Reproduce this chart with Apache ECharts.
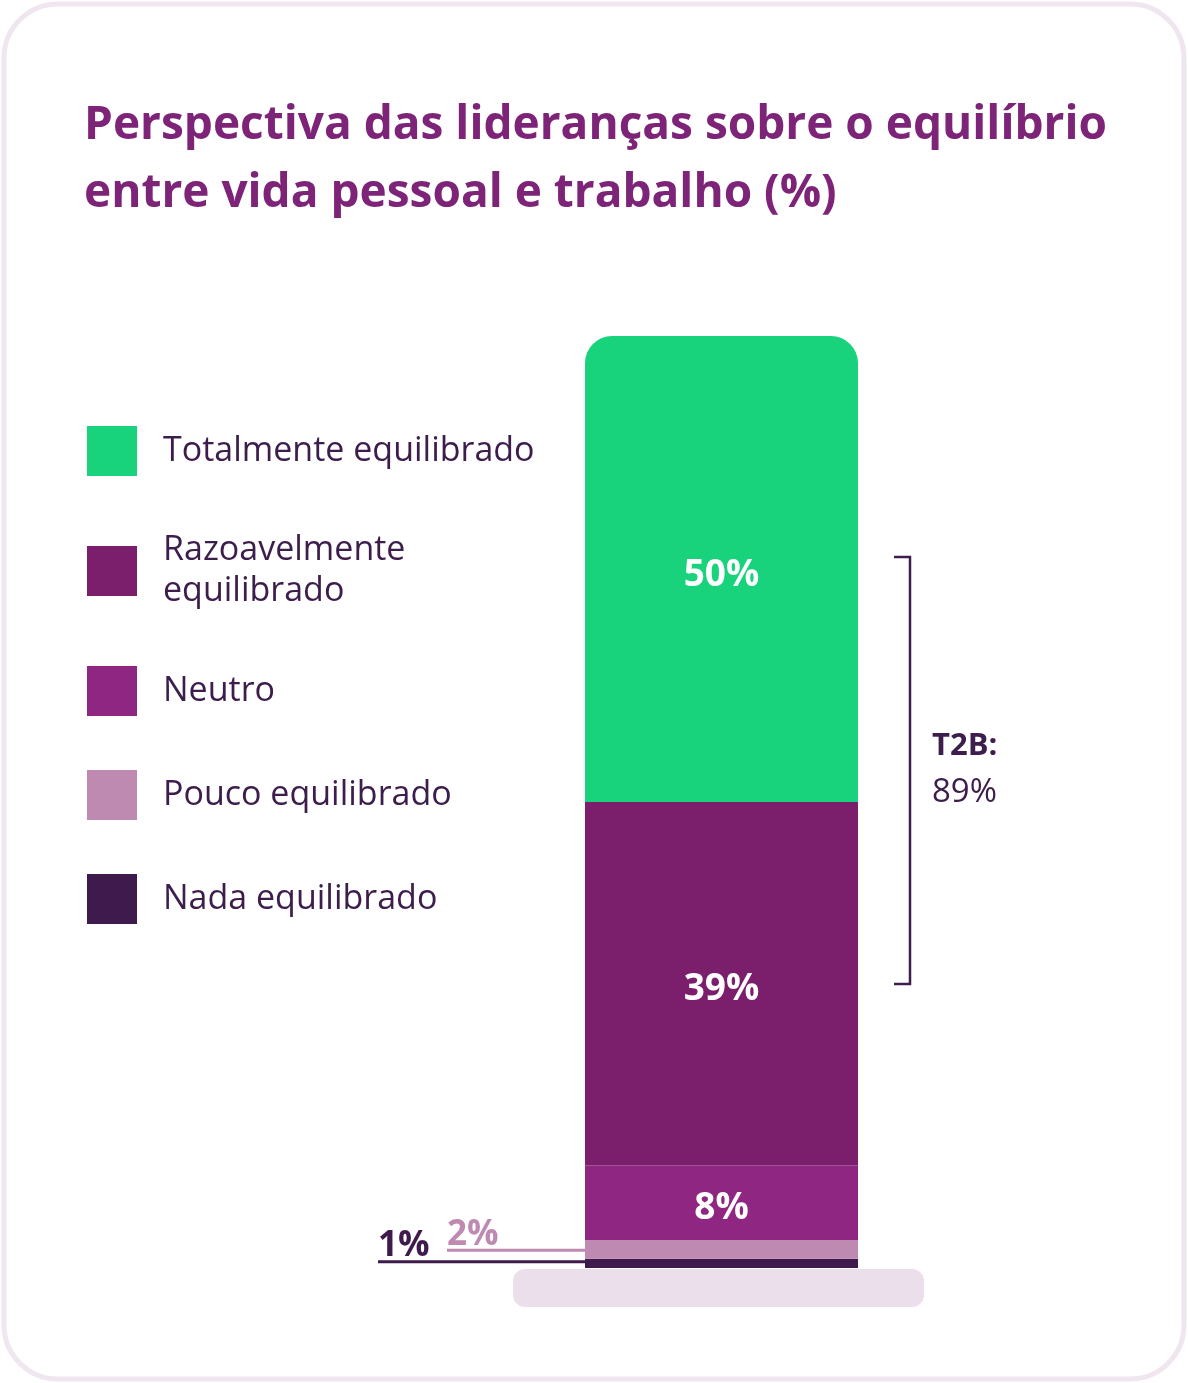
<!DOCTYPE html>
<html lang="pt">
<head>
<meta charset="UTF-8">
<title>Perspectiva das lideranças</title>
<style>
  html, body { margin: 0; padding: 0; background: #ffffff; }
  #main { width: 1188px; height: 1383px; }
</style>
</head>
<body>
<div id="main"></div>
<script src="https://cdn.jsdelivr.net/npm/echarts@6/dist/echarts.min.js"></script>
<script>
// categorias de baixo para cima na pilha
var categorias = ['Nada equilibrado', 'Pouco equilibrado', 'Neutro', 'Razoavelmente equilibrado', 'Totalmente equilibrado'];
var valores = [1, 2, 8, 39, 50];
var cores = ['#3f1a4c', '#be8ab2', '#8e2682', '#7b1e6b', '#18d27c'];
var ordemLegenda = ['Totalmente equilibrado', 'Razoavelmente equilibrado', 'Neutro', 'Pouco equilibrado', 'Nada equilibrado'];
var titulo = 'Perspectiva das lideranças sobre o equilíbrio\nentre vida pessoal e trabalho (%)';

var fonte = 'Open Sans';
var corTexto = '#3d1d4b';
var t2b = valores[3] + valores[4];

var chart = echarts.init(document.getElementById('main'));

var series = categorias.map(function (nome, i) {
    var s = {
        name: nome,
        type: 'bar',
        stack: 'total',
        barCategoryGap: '0%',
        data: [valores[i]],
        itemStyle: { color: cores[i] },
        label: {
            show: true,
            position: 'inside',
            offset: [0, 6],
            formatter: '{c}%',
            color: '#ffffff',
            fontFamily: fonte,
            fontWeight: 'bold',
            fontSize: 37
        },
        z: 3
    };
    if (i === 4) {
        s.itemStyle.borderRadius = [27, 27, 0, 0];
    }
    // rótulos pequenos fora da barra, sublinhados
    if (i === 0 || i === 1) {
        var larg = i === 0 ? 207 : 138;
        s.label = {
            show: true,
            position: 'left',
            distance: 0,
            offset: [0, i === 0 ? -15.5 : -13],
            formatter: '{t|{c}%}\n{u|}',
            rich: {
                t: {
                    align: 'left',
                    color: cores[i],
                    fontFamily: fonte,
                    fontWeight: 'bold',
                    fontSize: 35,
                    lineHeight: 28
                },
                u: {
                    align: 'left',
                    width: larg,
                    height: 3,
                    lineHeight: 3,
                    backgroundColor: cores[i]
                }
            }
        };
    }
    return s;
});

var option = {
    backgroundColor: '#ffffff',
    animation: false,
    title: {
        text: titulo,
        left: 84,
        top: 92,
        padding: 0,
        textStyle: {
            color: '#7d2478',
            fontFamily: fonte,
            fontWeight: 'bold',
            fontSize: 46,
            lineHeight: 68
        }
    },
    legend: {
        data: ordemLegenda,
        orient: 'vertical',
        left: 87,
        top: 426,
        padding: 0,
        itemWidth: 50,
        itemHeight: 50,
        itemGap: 54,
        icon: 'rect',
        selectedMode: false,
        formatter: function (nome) {
            return nome === 'Razoavelmente equilibrado' ? 'Razoavelmente\nequilibrado' : nome;
        },
        textStyle: {
            color: corTexto,
            fontFamily: fonte,
            fontSize: 34,
            lineHeight: 41,
            padding: [0, 0, 0, 21]
        }
    },
    grid: {
        left: 585,
        width: 273,
        top: 336,
        bottom: 115
    },
    xAxis: {
        type: 'category',
        data: ['lideranças'],
        show: false
    },
    yAxis: {
        type: 'value',
        min: 0,
        max: 100,
        show: false
    },
    series: series,
    graphic: [
        {
            type: 'rect',
            shape: { x: 4, y: 4, width: 1180, height: 1375, r: 54 },
            style: { fill: 'none', stroke: '#efe6ef', lineWidth: 5 },
            z: -10
        },
        {
            type: 'rect',
            shape: { x: 513, y: 1269, width: 411, height: 38, r: 12 },
            style: { fill: '#ebdfeb' },
            z: 0
        },
        {
            type: 'polyline',
            shape: { points: [[894, 557], [910, 557], [910, 984], [894, 984]] },
            style: { fill: 'none', stroke: corTexto, lineWidth: 2.5 }
        },
        {
            type: 'text',
            left: 932,
            top: 731,
            style: {
                text: 'T2B:',
                fill: corTexto,
                font: 'bold 31px "' + fonte + '"'
            }
        },
        {
            type: 'text',
            left: 932,
            top: 776,
            style: {
                text: t2b + '%',
                fill: corTexto,
                font: '33px "' + fonte + '"'
            }
        }
    ]
};

chart.setOption(option);
</script>
</body>
</html>
